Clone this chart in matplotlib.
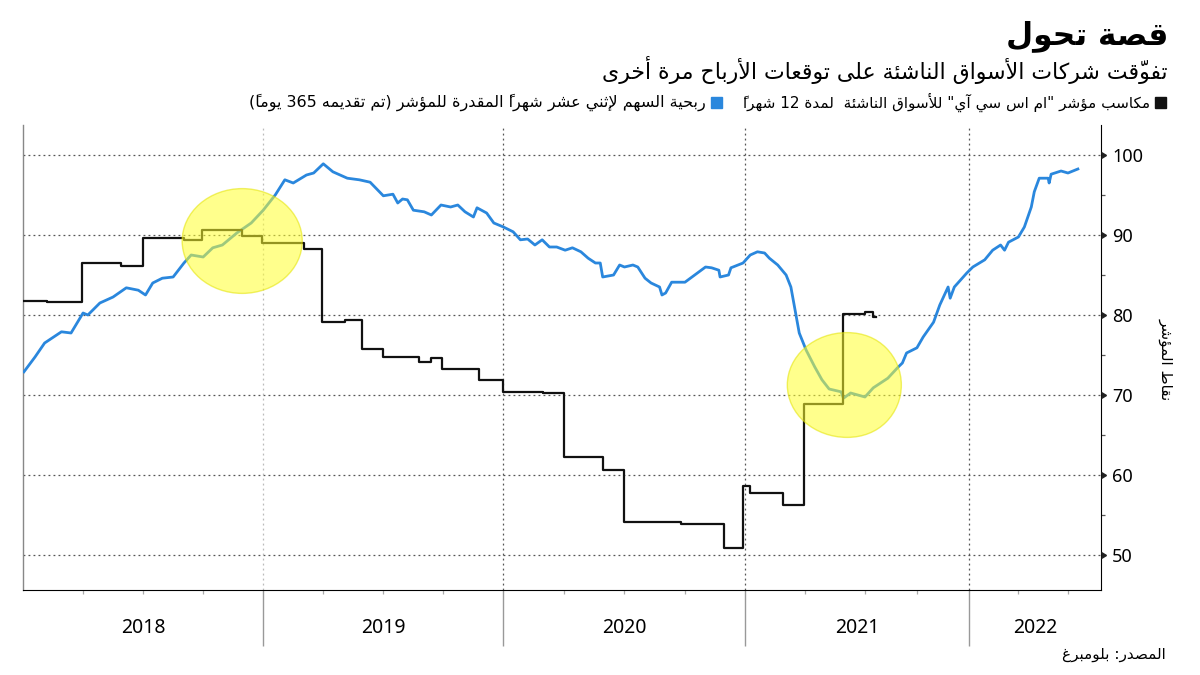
import numpy as np
import matplotlib
matplotlib.use("Agg")
import matplotlib.pyplot as plt
from matplotlib.patches import Ellipse, Rectangle
from matplotlib.ticker import FixedLocator
import matplotlib.transforms as mtransforms

# ---- data (fractional year, index points) ----
eps_t = [2018.004, 2018.05, 2018.09, 2018.16, 2018.20, 2018.25, 2018.27, 2018.32, 2018.375, 2018.43,
         2018.48, 2018.51, 2018.54, 2018.58, 2018.625, 2018.67, 2018.70, 2018.75, 2018.79, 2018.83,
         2018.89, 2018.95, 2019.0, 2019.05, 2019.09, 2019.125, 2019.18, 2019.21, 2019.25, 2019.29,
         2019.35, 2019.40, 2019.445, 2019.50, 2019.54, 2019.56, 2019.58, 2019.60, 2019.625, 2019.67,
         2019.70, 2019.74, 2019.78, 2019.81, 2019.84, 2019.875, 2019.89, 2019.93, 2019.96, 2020.0,
         2020.04, 2020.07, 2020.10, 2020.13, 2020.16, 2020.19, 2020.22, 2020.255, 2020.285, 2020.32,
         2020.35, 2020.38, 2020.40, 2020.41, 2020.455, 2020.48, 2020.50, 2020.535, 2020.555, 2020.585,
         2020.61, 2020.645, 2020.655, 2020.67, 2020.695, 2020.725, 2020.75, 2020.79, 2020.835, 2020.86,
         2020.89, 2020.895, 2020.93, 2020.94, 2020.99, 2021.02, 2021.05, 2021.08, 2021.10, 2021.135,
         2021.17, 2021.19, 2021.21, 2021.225, 2021.254, 2021.29, 2021.32, 2021.35, 2021.40, 2021.41,
         2021.44, 2021.50, 2021.54, 2021.61, 2021.66, 2021.68, 2021.70, 2021.75, 2021.78, 2021.83,
         2021.86, 2021.90, 2021.91, 2021.93, 2021.99, 2022.02, 2022.08, 2022.12, 2022.16, 2022.18,
         2022.20, 2022.25, 2022.28, 2022.315, 2022.33, 2022.355, 2022.40, 2022.405, 2022.415, 2022.465,
         2022.50, 2022.55]
eps_v = [72.9, 74.75, 76.5, 77.9, 77.75, 80.25, 80.0, 81.5, 82.25, 83.4,
         83.1, 82.5, 84.0, 84.6, 84.75, 86.5, 87.5, 87.25, 88.4, 88.75,
         90.25, 91.5, 93.1, 95.0, 96.9, 96.5, 97.5, 97.75, 98.9, 97.9,
         97.1, 96.9, 96.6, 94.9, 95.1, 94.0, 94.5, 94.4, 93.1, 92.9,
         92.5, 93.75, 93.5, 93.75, 92.9, 92.25, 93.4, 92.75, 91.5, 91.0,
         90.4, 89.4, 89.5, 88.75, 89.4, 88.5, 88.5, 88.1, 88.4, 87.9,
         87.1, 86.5, 86.5, 84.75, 85.0, 86.25, 86.0, 86.25, 86.0, 84.6,
         84.0, 83.5, 82.5, 82.75, 84.1, 84.1, 84.1, 85.0, 86.0, 85.9,
         85.6, 84.75, 85.0, 85.9, 86.5, 87.5, 87.9, 87.75, 87.1, 86.25,
         85.0, 83.5, 80.25, 77.75, 75.6, 73.5, 71.9, 70.75, 70.4, 69.6,
         70.25, 69.75, 70.9, 72.1, 73.5, 74.0, 75.25, 75.9, 77.25, 79.1,
         81.25, 83.5, 82.1, 83.5, 85.25, 86.0, 86.9, 88.1, 88.75, 88.1,
         89.1, 89.75, 91.0, 93.5, 95.4, 97.1, 97.1, 96.5, 97.6, 98.0,
         97.75, 98.25]

gain_t = [2018.0, 2018.10, 2018.246, 2018.41, 2018.50, 2018.67, 2018.745, 2018.91, 2018.995, 2019.17,
          2019.245, 2019.34, 2019.41, 2019.50, 2019.65, 2019.70, 2019.745, 2019.90, 2020.0, 2020.165,
          2020.25, 2020.41, 2020.50, 2020.735, 2020.91, 2020.99, 2021.02, 2021.157, 2021.246, 2021.41,
          2021.50, 2021.54, 2021.555]
gain_v = [81.75, 81.6, 86.5, 86.1, 89.6, 89.4, 90.6, 89.9, 89.0, 88.25,
          79.1, 79.4, 75.75, 74.75, 74.1, 74.6, 73.25, 71.9, 70.4, 70.25,
          62.25, 60.6, 54.1, 53.9, 50.9, 58.6, 57.75, 56.25, 68.9, 80.1,
          80.4, 79.75, 79.75]

years = [2018, 2019, 2020, 2021, 2022]
y_ticks = [50, 60, 70, 80, 90, 100]
highlights = [(2018.9125, 89.25), (2021.425, 71.25)]

title = "قصة تحول"
subtitle = "تفوّقت شركات الأسواق الناشئة على توقعات الأرباح مرة أخرى"
legend_gain = 'مكاسب مؤشر "ام اس سي آي" للأسواق الناشئة  لمدة 12 شهراً'
legend_eps = "ربحية السهم لإثني عشر شهراً المقدرة للمؤشر (تم تقديمه 365 يوماً)"
ylabel = "نقاط المؤشر"
source = "المصدر: بلومبرغ"

# ---- minimal Arabic shaping (matplotlib has no shaping / bidi) ----
BASE = {'ء': (0xFE80, 1), 'آ': (0xFE81, 2), 'أ': (0xFE83, 2), 'ؤ': (0xFE85, 2), 'إ': (0xFE87, 2),
        'ئ': (0xFE89, 4), 'ا': (0xFE8D, 2), 'ب': (0xFE8F, 4), 'ة': (0xFE93, 2), 'ت': (0xFE95, 4),
        'ث': (0xFE99, 4), 'ج': (0xFE9D, 4), 'ح': (0xFEA1, 4), 'خ': (0xFEA5, 4), 'د': (0xFEA9, 2),
        'ذ': (0xFEAB, 2), 'ر': (0xFEAD, 2), 'ز': (0xFEAF, 2), 'س': (0xFEB1, 4), 'ش': (0xFEB5, 4),
        'ص': (0xFEB9, 4), 'ض': (0xFEBD, 4), 'ط': (0xFEC1, 4), 'ظ': (0xFEC5, 4), 'ع': (0xFEC9, 4),
        'غ': (0xFECD, 4), 'ف': (0xFED1, 4), 'ق': (0xFED5, 4), 'ك': (0xFED9, 4), 'ل': (0xFEDD, 4),
        'م': (0xFEE1, 4), 'ن': (0xFEE5, 4), 'ه': (0xFEE9, 4), 'و': (0xFEED, 2), 'ى': (0xFEEF, 2),
        'ي': (0xFEF1, 4)}
LAM_ALEF = {'آ': 0xFEF5, 'أ': 0xFEF7, 'إ': 0xFEF9, 'ا': 0xFEFB}
MARKS = set(chr(c) for c in range(0x064B, 0x0653)) | {'\u0670'}
MIRROR = {'(': ')', ')': '('}


def shape(s):
    items = []
    i = 0
    while i < len(s):
        c = s[i]
        if c in MARKS and items:
            items[-1][1].append(c)
            i += 1
            continue
        if c == 'ل':
            j = i + 1
            marks = []
            while j < len(s) and s[j] in MARKS:
                marks.append(s[j])
                j += 1
            if j < len(s) and s[j] in LAM_ALEF:
                items.append([('LA', s[j]), marks, 'R'])
                i = j + 1
                continue
        if c in BASE:
            n = BASE[c][1]
            items.append([c, [], 'D' if n == 4 else ('R' if n == 2 else 'U')])
        else:
            items.append([c, [], 'U'])
        i += 1
    out = []
    for k, (c, marks, jt) in enumerate(items):
        pj = k > 0 and items[k - 1][2] == 'D' and jt in 'DR'
        nj = jt == 'D' and k + 1 < len(items) and items[k + 1][2] in 'DR'
        if isinstance(c, tuple):
            g = chr(LAM_ALEF[c[1]] + (1 if pj else 0))
        elif c in BASE:
            start, n = BASE[c]
            if n == 4:
                form = 3 if (pj and nj) else 1 if pj else 2 if nj else 0
            elif n == 2:
                form = 1 if pj else 0
            else:
                form = 0
            g = chr(start + form)
        else:
            g = c
        # zero-width marks go in front of their base in visual order
        out.append(''.join(marks) + g)
    return out


def ar(s):
    runs = []
    for c in shape(s):
        if c[-1].isascii() and c[-1].isalnum():
            if runs and runs[-1][0]:
                runs[-1][1].append(c)
            else:
                runs.append((True, [c]))
        else:
            runs.append((False, [MIRROR.get(c, c)]))
    return ''.join(''.join(r[1]) for r in reversed(runs))


# ---- uneven time axis as in the original chart ----
T_KNOTS = [2010.0, 2018.0, 2020.0, 2021.0, 2021.5, 2022.0, 2022.5, 2030.0]
U_KNOTS = [-32.0, 0.0, 8.0, 12.03, 14.02, 15.75, 17.4, 42.15]


def fwd(t):
    return np.interp(t, T_KNOTS, U_KNOTS)


def inv(u):
    return np.interp(u, U_KNOTS, T_KNOTS)


AR_FONT = ['DejaVu Sans']
NUM_FONT = ['Noto Sans', 'DejaVu Sans']

fig = plt.figure(figsize=(12, 6.75), dpi=100)
ax = fig.add_axes([23 / 1200, 1 - 590 / 675, (1101 - 23) / 1200, (590 - 125) / 675])
ax.set_xscale('function', functions=(fwd, inv))
x_end = float(inv(17.95))
ax.set_xlim(2018.0, x_end)
ax.set_ylim(45.625, 103.75)

blue = '#2a87dd'
ax.plot(eps_t, eps_v, color=blue, lw=2.0, zorder=3)
ax.plot(gain_t, gain_v, color='#111111', lw=1.6, drawstyle='steps-post', zorder=4)

for cx, cy in highlights:
    ax.add_patch(Ellipse((cx, cy), 0.5, 13.1, facecolor='#ffff2e', edgecolor='#e3e300',
                         lw=1, alpha=0.55, zorder=5))

# grid
for v in y_ticks:
    ax.axhline(v, color='#555555', lw=0.9, ls=(0, (1.5, 2.5)), zorder=1)
grid_cols = ['#bbbbbb', '#555555', '#555555', '#555555']
for yr, col in zip(years[1:], grid_cols):
    ax.axvline(yr, color=col, lw=0.9, ls=(0, (1.5, 2.5)), zorder=1)

# spines
ax.spines['top'].set_visible(False)
ax.spines['left'].set_color('#888888')
ax.spines['left'].set_linewidth(1)
ax.spines['right'].set_color('black')
ax.spines['bottom'].set_color('black')

# y axis on the right
ax.yaxis.tick_right()
ax.set_yticks(y_ticks)
ax.yaxis.set_minor_locator(FixedLocator([55, 65, 75, 85, 95]))
ax.tick_params(axis='y', which='major', length=0, pad=8, labelsize=13)
ax.tick_params(axis='y', which='minor', length=3, width=0.9, color='#555555', direction='out')
for lab in ax.get_yticklabels():
    lab.set_fontfamily(NUM_FONT)
trans_y = mtransforms.blended_transform_factory(ax.transAxes, ax.transData)
ax.plot([1.0] * len(y_ticks), y_ticks, ls='none', marker=9, ms=5, color='#222222',
        transform=trans_y, clip_on=False, zorder=6)

# x axis: long separators at year starts, short quarter ticks
ax.xaxis.set_major_locator(FixedLocator(years[1:]))
quarters = [y + q for y in years for q in (0.25, 0.5, 0.75) if y + q < x_end]
ax.xaxis.set_minor_locator(FixedLocator(quarters))
ax.tick_params(axis='x', which='major', length=40, width=1, color='#999999', labelbottom=False)
ax.tick_params(axis='x', which='minor', length=3, width=0.9, color='#aaaaaa')
trans_x = mtransforms.blended_transform_factory(ax.transData, ax.transAxes)
for yr in years:
    a = fwd(yr)
    b = fwd(min(yr + 1, x_end))
    ax.text(float(inv((a + b) / 2)), -0.082, str(yr), transform=trans_x, ha='center', va='center',
            fontsize=14, family=NUM_FONT)

# texts
fig.text(1168 / 1200, 1 - 36 / 675, ar(title), ha='right', va='center', fontsize=22.5,
         fontweight='bold', family=AR_FONT)
fig.text(1168 / 1200, 1 - 70 / 675, ar(subtitle), ha='right', va='center', fontsize=15.8,
         family=AR_FONT)
fig.add_artist(Rectangle((1155 / 1200, 1 - 108 / 675), 11 / 1200, 11 / 675,
                         transform=fig.transFigure, color='#111111'))
fig.text(1150 / 1200, 1 - 102 / 675, ar(legend_gain), ha='right', va='center', fontsize=11,
         family=AR_FONT)
fig.add_artist(Rectangle((711 / 1200, 1 - 108 / 675), 11 / 1200, 11 / 675,
                         transform=fig.transFigure, color=blue))
fig.text(706 / 1200, 1 - 102 / 675, ar(legend_eps), ha='right', va='center', fontsize=11.5,
         family=AR_FONT)
fig.text(1166 / 1200, 1 - 359 / 675, ar(ylabel), ha='center', va='center', rotation=270,
         fontsize=11, family=AR_FONT)
fig.text(1166 / 1200, 1 - 655 / 675, ar(source), ha='right', va='center', fontsize=11,
         family=AR_FONT)

fig.savefig('out.png', dpi=100)
